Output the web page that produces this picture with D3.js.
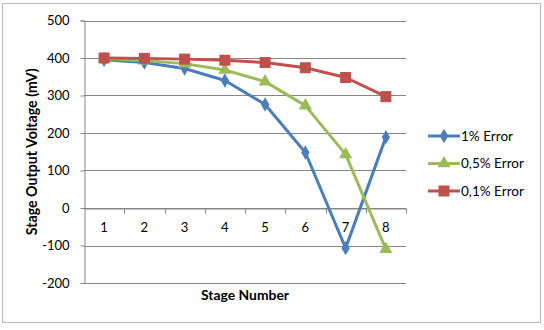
<!DOCTYPE html>
<html><head><meta charset="utf-8">
<script src="https://cdn.jsdelivr.net/npm/d3@7"></script>
<style>body{margin:0;background:#fff}svg{display:block}text{font-family:Lato,"Open Sans",sans-serif}</style>
</head><body>
<svg id="c" width="544" height="330"></svg>
<script>
const stages = [1,2,3,4,5,6,7,8];
const err1 = [395,388,372,340,276,148,-107,189];
const err05 = [398,393,385,368,337,273,143,-110];
const err01 = [400,399,397,394,388,374,348,297];
const yTicks = [-200,-100,0,100,200,300,400,500];
const seriesNames = ["1% Error","0,5% Error","0,1% Error"];
const colors = ["#4a7ebb","#9bbb59","#c0504d"];
const series = [err1, err05, err01];

const svg = d3.select("#c");
svg.append("rect").attr("x",2.5).attr("y",3.5).attr("width",538).attr("height",319)
  .attr("fill","#fff").attr("stroke","#bfbfbf").attr("stroke-width",1.2);

const L=84, R=406, T=20.5, B=283;
const fs = "13px";
const x = d3.scaleBand().domain(stages).range([L,R]);
const y = d3.scaleLinear().domain([-200,500]).range([B,T]);
const g = svg.append("g");

// fit a text element's font size to a target width
function fit(sel, target){
  const base = parseFloat(sel.attr("font-size"));
  const w = sel.node().getComputedTextLength();
  if (w > 0) sel.attr("font-size", (base*target/w).toFixed(2)+"px");
}

g.selectAll(".grid").data(yTicks).join("line")
  .attr("x1",L).attr("x2",R).attr("y1",d=>Math.round(y(d))+0.5).attr("y2",d=>Math.round(y(d))+0.5)
  .attr("stroke","#868686").attr("stroke-width",1);
const ya = d3.axisLeft(y).tickValues(yTicks).tickFormat(d=>String(d)).tickSize(4).tickPadding(11);
const yg = g.append("g").attr("transform",`translate(${L+0.5},0)`).call(ya);
yg.select(".domain").attr("stroke","#868686");
yg.selectAll(".tick line").attr("stroke","#868686");
yg.selectAll("text").attr("font-size",fs).attr("fill","#000");

const xa = d3.axisBottom(x).tickSize(0).tickPadding(14);
const xg = g.append("g").attr("transform",`translate(0,${Math.round(y(0))+0.5})`).call(xa);
xg.select(".domain").attr("stroke","#868686");
xg.selectAll("text").attr("font-size",fs).attr("fill","#000");
const seps = stages.map(s=>x(s)).concat([R]).slice(1);
xg.selectAll(".sep").data(seps).join("line").attr("class","sep")
  .attr("x1",d=>Math.round(d)+0.5).attr("x2",d=>Math.round(d)+0.5).attr("y1",0).attr("y2",5)
  .attr("stroke","#868686");

const cx = d=>x(d)+x.bandwidth()/2;
const line = d3.line().x((d,i)=>cx(stages[i])).y(d=>y(d));

const markers = [
  (sel)=>sel.append("path").attr("d",d3.symbol(d3.symbolDiamond,60)()),
  (sel)=>sel.append("path").attr("d",d3.symbol(d3.symbolTriangle,75)()),
  (sel)=>sel.append("rect").attr("x",-5.5).attr("y",-5.5).attr("width",11).attr("height",11)
];

series.forEach((s,k)=>{
  g.append("path").datum(s).attr("d",line).attr("fill","none")
    .attr("stroke",colors[k]).attr("stroke-width",3).attr("stroke-linejoin","round");
  s.forEach((v,i)=>{
    const m = g.append("g").attr("transform",`translate(${cx(stages[i])},${y(v)})`).attr("fill",colors[k]);
    markers[k](m);
  });
});

const lg = svg.append("g");
seriesNames.forEach((n,k)=>{
  const yy = 136 + k*27.5;
  lg.append("line").attr("x1",428).attr("x2",460).attr("y1",yy).attr("y2",yy)
    .attr("stroke",colors[k]).attr("stroke-width",3);
  const m = lg.append("g").attr("transform",`translate(444,${yy})`).attr("fill",colors[k]);
  markers[k](m);
  const t = lg.append("text").attr("x",461).attr("y",yy+4.5).attr("font-size","13px").text(n);
  if (k===1) fit(t, 63);
  else t.attr("font-size", lg.selectAll("text").nodes()[0] ? null : null);
});
// use same size for all legend labels as fitted middle one
const legSize = lg.selectAll("text").filter((d,i)=>i===1).attr("font-size");
lg.selectAll("text").attr("font-size", legSize);

const xt = svg.append("text").attr("x",245).attr("y",300).attr("text-anchor","middle")
  .attr("font-size","14px").attr("font-weight","bold").text("Stage Number");
fit(xt, 88);
const yt = svg.append("text").attr("transform",`translate(37,${(T+B)/2}) rotate(-90)`).attr("text-anchor","middle")
  .attr("font-size","14px").attr("font-weight","bold").text("Stage Output Voltage (mV)");
fit(yt, 167);
</script>
</body></html>
